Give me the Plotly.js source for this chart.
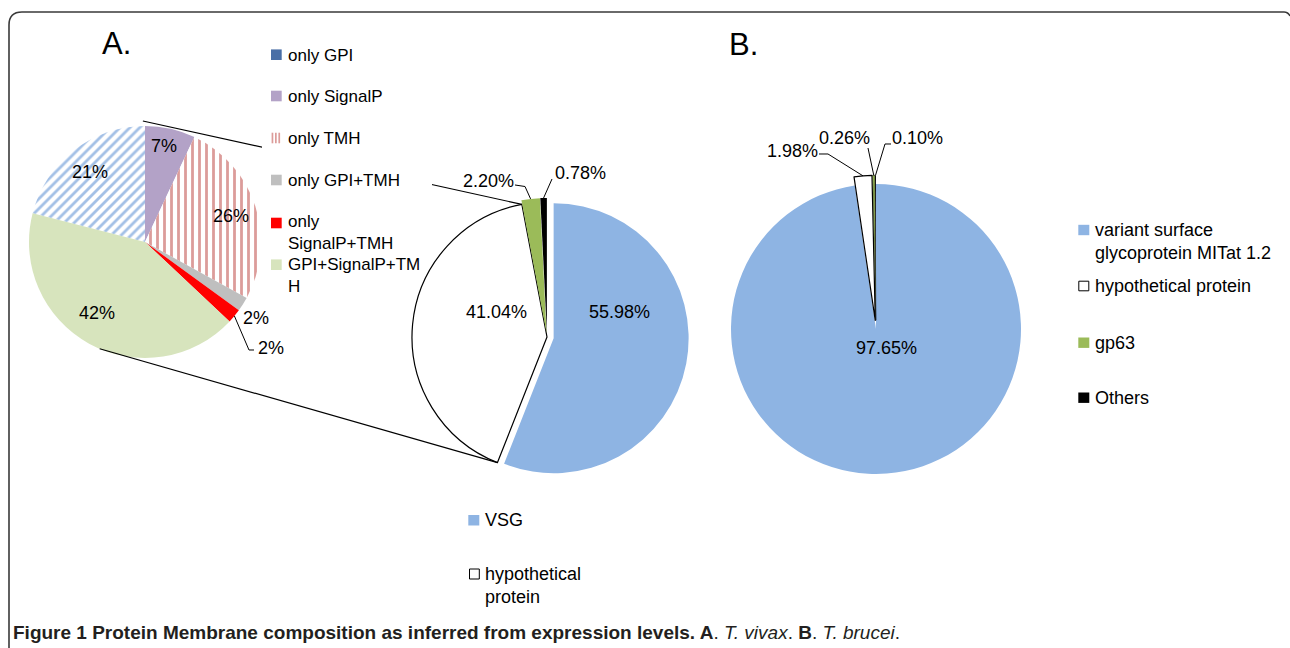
<!DOCTYPE html>
<html><head><meta charset="utf-8">
<script src="https://cdn.plot.ly/plotly-3.0.1.min.js"></script>
<style>html,body{margin:0;padding:0;background:#fff;} #chart{width:1290px;height:648px;}</style>
</head><body><div id="chart"></div>
<script>
// ---------------- DATA ----------------
const subCategories = ['only GPI','only SignalP','only TMH','only GPI+TMH','only SignalP+TMH','GPI+SignalP+TMH'];
const subValues = [21, 7, 26, 2, 2, 42];
const vivaxCategories = ['VSG','hypothetical protein','gp63','Others'];
const vivaxValues = [55.98, 41.04, 2.20, 0.78];
const bruceiCategories = ['variant surface glycoprotein MITat 1.2','hypothetical protein','gp63','Others'];
const bruceiValues = [97.65, 1.98, 0.26, 0.10];
const subLegendText = ['only GPI','only SignalP','only TMH','only GPI+TMH','only<br>SignalP+TMH','GPI+SignalP+TM<br>H'];
const vivaxLegendText = ['VSG','hypothetical<br>protein'];
const bruceiLegendText = ['variant surface<br>glycoprotein MITat 1.2','hypothetical protein','gp63','Others'];

// ---------------- STYLE / GEOMETRY ----------------
const W = 1290, H = 648;
const FONT = 'Liberation Sans, Arial, Helvetica, sans-serif';
const subColors = ['#b3cbea','#b3a2c7','#e2a3a1','#bfbfbf','#ff0000','#d7e4bd'];
const subLegendColors = ['#4a6fa6','#b3a2c7','#dc9c9a','#bfbfbf','#ff0000','#d7e4bd'];
const mainColors = ['#8eb4e3','#ffffff','#9bbb59','#000000'];
const geoSub = {cx:145, cy:242, r:116, pull:[0,0,0,0,0,0]};
const geoA = {cx:547, cy:337, r:135, pull:[0.05,0,0.03,0.03]};
const geoB = {cx:876, cy:329, r:145, pull:[0,0.06,0.06,0.06]};
const subRotation = -subValues[0] / subValues.reduce((a,b)=>a+b,0) * 360;

function domainOf(g){
  const mp = Math.max(...g.pull), h = g.r*(1+mp);
  return {x:[(g.cx-h)/W, (g.cx+h)/W], y:[1-(g.cy+h)/H, 1-(g.cy-h)/H]};
}
const sum = a => a.reduce((s,v)=>s+v,0);
function sliceAngle(vals, i, frac, rot){ // angle (deg, clockwise from top) inside slice i
  const tot = sum(vals); let c = 0; for(let k=0;k<i;k++) c += vals[k];
  return (rot||0) + (c + vals[i]*frac)/tot*360;
}
function pt(g, ang, rr){ const a = ang*Math.PI/180; return [g.cx + rr*Math.sin(a), g.cy - rr*Math.cos(a)]; }
function pulledPt(g, vals, i, frac, rot){
  const ang = sliceAngle(vals, i, frac, rot);
  const mid = sliceAngle(vals, i, 0.5, rot);
  const p = pt(g, ang, g.r); const off = pt({cx:0,cy:0}, mid, g.r*g.pull[i]);
  return [p[0]+off[0], p[1]+off[1]];
}
const X = x => x/W, Y = y => 1 - y/H;
function pathPx(points){ return 'M ' + points.map(p => X(p[0]).toFixed(5)+','+Y(p[1]).toFixed(5)).join(' L '); }

// ---------------- TRACES ----------------
const pieCommon = {type:'pie', sort:false, direction:'clockwise', textinfo:'none', hoverinfo:'none', showlegend:false};
const traces = [
  Object.assign({}, pieCommon, {
    labels: subCategories, values: subValues, rotation: subRotation, domain: domainOf(geoSub),
    marker: {colors: subColors, line:{width:0},
      pattern: {shape:['/','','|','','',''], fgcolor:['#a3c0e6','#b3a2c7','#dc9c9a','#bfbfbf','#ff0000','#d7e4bd'],
                bgcolor:'#ffffff', size:7, solidity:0.4, fillmode:'replace'}}
  }),
  Object.assign({}, pieCommon, {
    labels: vivaxCategories, values: vivaxValues, rotation: 0, domain: domainOf(geoA), pull: geoA.pull,
    marker: {colors: mainColors, line:{color:'#000000', width:[0,1.2,0,0]}}
  }),
  Object.assign({}, pieCommon, {
    labels: bruceiCategories, values: bruceiValues, rotation: 0, domain: domainOf(geoB), pull: geoB.pull,
    marker: {colors: mainColors, line:{color:'#000000', width:[0,1.2,0.5,0]}}
  })
];

// ---------------- SHAPES & ANNOTATIONS ----------------
const shapes = [], annotations = [];
function line(points, w, c){ shapes.push({type:'path', xref:'paper', yref:'paper', layer:'above', path:pathPx(points), line:{color:c||'#000', width:w||1}}); }
function rect(x0,y0,x1,y1, fill, lc, lw){ shapes.push({type:'rect', xref:'paper', yref:'paper', layer:'above', x0:X(x0), x1:X(x1), y0:Y(y1), y1:Y(y0), fillcolor:fill, line:{color:lc||'rgba(0,0,0,0)', width:lw||0}}); }
function text(x, y, t, size, xanchor, extra){ annotations.push(Object.assign({xref:'paper', yref:'paper', x:X(x), y:Y(y), text:t, showarrow:false, xanchor:xanchor||'center', yanchor:'middle', align:'left', font:{family:FONT, size:size||18, color:'#000'}}, extra||{})); }

// frame
shapes.push({type:'path', xref:'paper', yref:'paper', layer:'above',
  path: 'M '+X(9)+','+Y(648)+' L '+X(9)+','+Y(25)+' Q '+X(9)+','+Y(12)+' '+X(22)+','+Y(12)+' L '+X(1284)+','+Y(12)+' Q '+X(1288)+','+Y(12)+' '+X(1290)+','+Y(16),
  line:{color:'#3a3a3a', width:1.6}});

// connectors from secondary pie to the hypothetical-protein slice
const hypStart = pt(geoA, sliceAngle(vivaxValues,1,0,0), geoA.r);
const hypEnd = pt(geoA, sliceAngle(vivaxValues,1,1,0), geoA.r);
line([pt(geoSub, -1, geoSub.r+5), hypEnd], 1.2);
line([pt(geoSub, 203, geoSub.r), hypStart], 1.2);
// white box behind legend A (hides the connector where the legend sits)
rect(262, 40, 432, 192, '#ffffff');

// leader lines
line([[254,350],[249,350], pulledPt(geoSub, subValues, 4, 0.5, subRotation)], 1);
line([[515,185],[525,186.5], pulledPt(geoA, vivaxValues, 2, 0.5, 0)], 1);
line([[552,179], pulledPt(geoA, vivaxValues, 3, 0.5, 0)], 1);
line([[819,154],[828,154], pulledPt(geoB, bruceiValues, 1, 0.5, 0)], 1);
line([[868,148], pulledPt(geoB, bruceiValues, 2, 0.5, 0)], 1);
line([[891,144],[885,144], pulledPt(geoB, bruceiValues, 3, 0.5, 0)], 1);

// pie labels
const pct0 = v => Math.round(v) + '%';
const pct2 = v => v.toFixed(2) + '%';
const subLabelPos = [[90,172],[164,146],[231,216],[256,318],[271,348],[97,313]];
subValues.forEach((v,i) => text(subLabelPos[i][0], subLabelPos[i][1], pct0(v), 18));
const vivaxLabelPos = [[619,312],[497,312],[488,181],[580,173]];
vivaxValues.forEach((v,i) => text(vivaxLabelPos[i][0], vivaxLabelPos[i][1], pct2(v), 18));
const bruceiLabelPos = [[886,348],[792,151],[844,138],[917,138]];
bruceiValues.forEach((v,i) => text(bruceiLabelPos[i][0], bruceiLabelPos[i][1], pct2(v), 18));

// legend A (secondary pie)
const subLegendY = [54.7, 96, 138, 180, 223, 264.7];
const subLegendTextY = [55, 96, 138, 180, 233, 275];
subCategories.forEach((c,i) => {
  const y = subLegendY[i];
  if (i === 2) {
    [271.6, 275, 278.4].forEach(x0 => rect(x0, y-5.3, x0+1.7, y+5.3, subLegendColors[i]));
  } else {
    rect(271, y-5.3, 281.7, y+5.3, subLegendColors[i]);
  }
  text(286, subLegendTextY[i], subLegendText[i], 17, 'left');
});

// legend A (main pie)
rect(468.3, 515, 479.3, 525.5, mainColors[0]);
text(483, 520, vivaxLegendText[0], 18, 'left');
rect(469.5, 569, 479.3, 579, '#ffffff', '#000', 1);
text(483, 585.5, vivaxLegendText[1], 18, 'left');

// legend B
const bLegY = [230, 286, 342.7, 397.7];
const bLegTextY = [241, 286, 342.7, 397.7];
bruceiCategories.forEach((c,i) => {
  const y = bLegY[i];
  if (i === 1) rect(1078.8, y-4.8, 1088.8, y+4.8, '#ffffff', '#000', 1);
  else rect(1078.3, y-5.2, 1089.3, y+5.2, mainColors[i]);
  text(1093, bLegTextY[i], bruceiLegendText[i], 18, 'left');
});

// panel letters
text(116.5, 44, 'A.', 31);
text(743.5, 45, 'B.', 31);

// caption
text(11, 632, '<b>Figure 1 Protein Membrane composition as inferred from expression levels. A</b>. <i>T. vivax</i>. <b>B</b>. <i>T. brucei</i>.', 19, 'left', {font:{family:FONT, size:19, color:'#231f20'}});

const layout = {
  width: W, height: H, margin:{l:0,r:0,t:0,b:0}, paper_bgcolor:'#ffffff', plot_bgcolor:'#ffffff',
  showlegend:false, shapes: shapes, annotations: annotations
};
Plotly.newPlot('chart', traces, layout, {displayModeBar:false, staticPlot:true});
</script></body></html>
